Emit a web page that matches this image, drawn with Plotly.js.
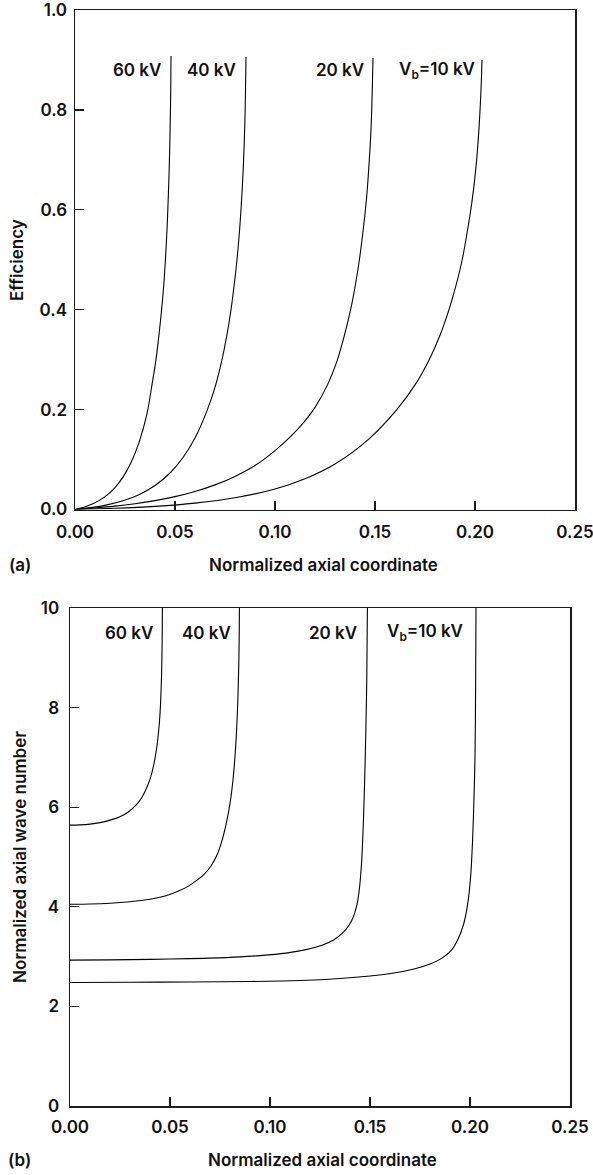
<!DOCTYPE html>
<html>
<head>
<meta charset="utf-8">
<script src="https://cdn.plot.ly/plotly-3.0.1.min.js"></script>
<style>
html,body{margin:0;padding:0;background:#fff;}
#chart{width:593px;height:1175px;}
</style>
</head>
<body>
<div id="chart"></div>
<script>
// ---------- Data: panel (a) efficiency vs normalized axial coordinate ----------
const effZ60 = [0, 0.004, 0.008, 0.012, 0.016, 0.020, 0.024, 0.028, 0.032, 0.036, 0.0385, 0.0405, 0.0420, 0.0433, 0.0444, 0.0452, 0.0460, 0.0466, 0.04715, 0.0476, 0.0479, 0.0480];
const eff60  = [0, 0.0041, 0.0098, 0.0178, 0.0287, 0.0439, 0.0648, 0.094, 0.134, 0.192, 0.250, 0.300, 0.350, 0.400, 0.450, 0.500, 0.560, 0.620, 0.690, 0.770, 0.850, 0.908];

const effZ40 = [0, 0.008, 0.016, 0.024, 0.032, 0.040, 0.048, 0.054, 0.060, 0.0662, 0.0704, 0.0735, 0.0760, 0.0780, 0.0796, 0.0810, 0.0823, 0.0833, 0.0842, 0.0849, 0.0853, 0.0855];
const eff40  = [0, 0.0037, 0.0092, 0.0174, 0.0296, 0.0479, 0.0751, 0.104, 0.143, 0.200, 0.250, 0.300, 0.350, 0.400, 0.450, 0.500, 0.560, 0.620, 0.690, 0.770, 0.850, 0.906];

const effZ20 = [0, 0.010, 0.020, 0.030, 0.040, 0.050, 0.060, 0.070, 0.080, 0.090, 0.100, 0.108, 0.1145, 0.1201, 0.1263, 0.1310, 0.1348, 0.1378, 0.1402, 0.1422, 0.1441, 0.1457, 0.1470, 0.1481, 0.1487, 0.1490];
const eff20  = [0, 0.003, 0.0067, 0.0116, 0.0178, 0.0258, 0.0361, 0.0493, 0.0663, 0.088, 0.118, 0.147, 0.175, 0.205, 0.250, 0.297, 0.350, 0.400, 0.450, 0.500, 0.560, 0.620, 0.690, 0.770, 0.850, 0.904];

const effZ10 = [0, 0.020, 0.040, 0.060, 0.080, 0.100, 0.115, 0.130, 0.1466, 0.1609, 0.1701, 0.1771, 0.1826, 0.1870, 0.1906, 0.1936, 0.1963, 0.1986, 0.2006, 0.2021, 0.2031, 0.2035];
const eff10  = [0, 0.0024, 0.0063, 0.0128, 0.0235, 0.0411, 0.0616, 0.0912, 0.140, 0.200, 0.250, 0.300, 0.350, 0.400, 0.450, 0.500, 0.560, 0.620, 0.690, 0.770, 0.850, 0.900];

// ---------- Data: panel (b) normalized axial wave number vs axial coordinate ----------
const kZ60 = [0, 0.005, 0.010, 0.015, 0.020, 0.025, 0.029, 0.033, 0.036, 0.039, 0.041, 0.0425, 0.0437, 0.0447, 0.0453, 0.0458, 0.0461, 0.0462];
const k60  = [5.64, 5.645, 5.66, 5.69, 5.74, 5.81, 5.90, 6.04, 6.20, 6.45, 6.70, 6.98, 7.30, 7.70, 8.10, 8.69, 9.40, 10.0];

const kZ40 = [0, 0.010, 0.020, 0.030, 0.040, 0.048, 0.054, 0.059, 0.063, 0.067, 0.0705, 0.0735, 0.076, 0.078, 0.080, 0.0815, 0.0828, 0.0837, 0.0843, 0.0846, 0.0847];
const k40  = [4.05, 4.055, 4.07, 4.10, 4.15, 4.22, 4.31, 4.41, 4.52, 4.65, 4.82, 5.04, 5.33, 5.65, 6.07, 6.55, 7.20, 7.90, 8.70, 9.40, 10.0];

const kZ20 = [0, 0.020, 0.040, 0.060, 0.080, 0.095, 0.108, 0.118, 0.126, 0.132, 0.1365, 0.1395, 0.1415, 0.1435, 0.1448, 0.1458, 0.1466, 0.1473, 0.1479, 0.1484, 0.1487];
const k20  = [2.93, 2.935, 2.945, 2.96, 2.985, 3.02, 3.07, 3.14, 3.23, 3.34, 3.48, 3.63, 3.78, 4.05, 4.40, 4.90, 5.60, 6.50, 7.50, 8.60, 10.0];

const kZ10 = [0, 0.030, 0.060, 0.090, 0.115, 0.135, 0.150, 0.162, 0.172, 0.180, 0.186, 0.1905, 0.194, 0.1968, 0.1988, 0.2003, 0.2013, 0.2020, 0.2025, 0.2028, 0.2030];
const k10  = [2.48, 2.485, 2.49, 2.50, 2.52, 2.56, 2.61, 2.67, 2.75, 2.85, 2.97, 3.12, 3.35, 3.65, 4.05, 4.60, 5.34, 6.20, 7.00, 8.35, 10.0];

// ---------- Labels / ticks ----------
const curveLabels = ["60 kV", "40 kV", "20 kV", "V<sub>b</sub>=10 kV"];
const labelXa = [0.0440, 0.0815, 0.1455, 0.2010];
const labelYa = 0.879;
const labelXb = [0.0425, 0.0815, 0.1445, 0.1975];
const labelYb = 9.50;

const xTickVals = [0, 0.05, 0.10, 0.15, 0.20, 0.25];
const xTickText = ["0.00", "0.05", "0.10", "0.15", "0.20", "0.25"];
const yTickValsA = [0, 0.2, 0.4, 0.6, 0.8, 1.0];
const yTickTextA = ["0.0", "0.2", "0.4", "0.6", "0.8", "1.0"];
const yTickValsB = [0, 2, 4, 6, 8, 10];
const yTickTextB = ["0", "2", "4", "6", "8", "10"];

const xTitle = "Normalized axial coordinate";
const yTitleA = "Efficiency";
const yTitleB = "Normalized axial wave number";

// ---------- Build ----------
const FONT = "Inter, DejaVu Sans, Arial, sans-serif";
const FSIZE = 17;
const TXT = {family: FONT, size: FSIZE, color: "#111", weight: 600};
const lineStyle = {color: "#000", width: 1.1, shape: "spline", smoothing: 0.8};

function tr(x, y, xa, ya) {
  return {x: x, y: y, xaxis: xa, yaxis: ya, type: "scatter", mode: "lines",
          line: lineStyle, showlegend: false, hoverinfo: "skip"};
}

const data = [
  tr(effZ60, eff60, "x", "y"),
  tr(effZ40, eff40, "x", "y"),
  tr(effZ20, eff20, "x", "y"),
  tr(effZ10, eff10, "x", "y"),
  tr(kZ60, k60, "x2", "y2"),
  tr(kZ40, k40, "x2", "y2"),
  tr(kZ20, k20, "x2", "y2"),
  tr(kZ10, k10, "x2", "y2")
];

const W = 593, H = 1175;
function fx(px) { return px / W; }
function fy(py) { return 1 - py / H; }

const axCommon = {
  showgrid: false, zeroline: false, showline: true, mirror: true,
  linecolor: "#1a1a1a", linewidth: 1.5,
  ticks: "inside", ticklen: 9, tickwidth: 1.2, tickcolor: "#1a1a1a",
  tickmode: "array", automargin: false, ticklabeloverflow: "allow",
  tickfont: TXT,
  fixedrange: true
};

const annotations = [];
curveLabels.forEach((t, i) => {
  annotations.push({x: labelXa[i], y: labelYa, xref: "x", yref: "y", text: t,
    showarrow: false, xanchor: "right", yanchor: "middle", font: TXT});
  annotations.push({x: labelXb[i], y: labelYb, xref: "x2", yref: "y2", text: t,
    showarrow: false, xanchor: "right", yanchor: "middle", font: TXT});
});
annotations.push({x: fx(7), y: fy(565), xref: "paper", yref: "paper", text: "(a)",
  showarrow: false, xanchor: "left", yanchor: "middle", font: TXT});
annotations.push({x: fx(6), y: fy(1160), xref: "paper", yref: "paper", text: "(b)",
  showarrow: false, xanchor: "left", yanchor: "middle", font: TXT});
annotations.push({x: fx(323), y: fy(565), xref: "paper", yref: "paper", text: xTitle,
  showarrow: false, xanchor: "center", yanchor: "middle", font: TXT});
annotations.push({x: fx(322), y: fy(1160), xref: "paper", yref: "paper", text: xTitle,
  showarrow: false, xanchor: "center", yanchor: "middle", font: TXT});
annotations.push({x: fx(17), y: fy(260), xref: "paper", yref: "paper", text: yTitleA, textangle: -90,
  showarrow: false, xanchor: "center", yanchor: "middle", font: TXT});
annotations.push({x: fx(20), y: fy(857), xref: "paper", yref: "paper", text: yTitleB, textangle: -90,
  showarrow: false, xanchor: "center", yanchor: "middle", font: TXT});

const layout = {
  width: W, height: H,
  margin: {l: 0, r: 0, t: 0, b: 0, pad: 0},
  paper_bgcolor: "#fff", plot_bgcolor: "#fff",
  showlegend: false,
  font: TXT,
  xaxis: Object.assign({}, axCommon, {domain: [fx(75), fx(575)], range: [0, 0.25],
    tickvals: xTickVals, ticktext: xTickText, anchor: "y", ticklabelstandoff: 7}),
  yaxis: Object.assign({}, axCommon, {domain: [fy(509.5), fy(10)], range: [0, 1],
    tickvals: yTickValsA, ticktext: yTickTextA, anchor: "x", ticklabelstandoff: 3}),
  xaxis2: Object.assign({}, axCommon, {domain: [fx(70), fx(570)], range: [0, 0.25],
    tickvals: xTickVals, ticktext: xTickText, anchor: "y2", ticklabelstandoff: 5}),
  yaxis2: Object.assign({}, axCommon, {domain: [fy(1106), fy(608)], range: [0, 10],
    tickvals: yTickValsB, ticktext: yTickTextB, anchor: "x2", ticklabelstandoff: 6}),
  annotations: annotations
};

Plotly.newPlot("chart", data, layout, {displayModeBar: false, staticPlot: true});
</script>
</body>
</html>
